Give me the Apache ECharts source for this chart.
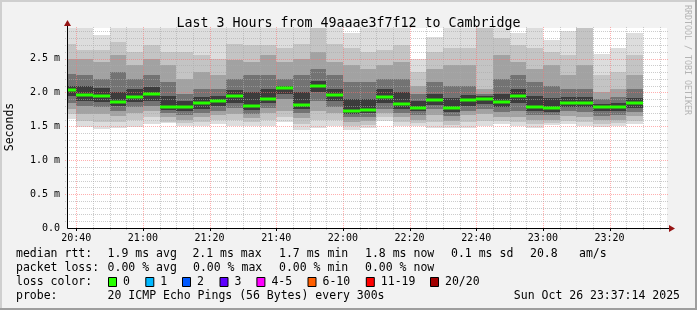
<!DOCTYPE html>
<html><head><meta charset="utf-8">
<script src="https://cdn.jsdelivr.net/npm/echarts@6/dist/echarts.min.js"></script>
<style>html,body{margin:0;padding:0;background:#f2f2f2}#c{width:697px;height:310px}</style>
</head><body><div id="c"></div>
<script>
// ---------------- data ----------------
const titleText = 'Last 3 Hours from 49aaae3f7f12 to Cambridge';
const xStart = '20:37:14', xEnd = '23:37:14';
const yMax = 2.95;                       // ms
const yTickValues = [0, 0.5, 1.0, 1.5, 2.0, 2.5];
const xTickLabels = ['20:40','21:00','21:20','21:40','22:00','22:20','22:40','23:00','23:20'];
const binEnds = ['20:40','20:45','20:50','20:55','21:00','21:05','21:10','21:15','21:20','21:25','21:30','21:35',
  '21:40','21:45','21:50','21:55','22:00','22:05','22:10','22:15','22:20','22:25','22:30','22:35',
  '22:40','22:45','22:50','22:55','23:00','23:05','23:10','23:15','23:20','23:25','23:30'];
const median = [2.04,1.96,1.95,1.86,1.93,1.97,1.79,1.78,1.84,1.88,1.94,1.80,1.91,2.06,1.81,2.09,1.96,1.725,
  1.74,1.93,1.83,1.77,1.89,1.77,1.89,1.90,1.86,1.94,1.78,1.77,1.845,1.85,1.78,1.78,1.84];
// smoke band edges (outermost = 1 ... innermost = 5)
const smokeHi1 = [2.95,2.95,2.85,2.95,2.95,2.95,2.95,2.95,2.95,2.95,2.95,2.95,2.95,2.95,2.95,2.95,2.95,2.87,
  2.95,2.95,2.95,2.50,2.82,2.95,2.95,2.95,2.95,2.87,2.95,2.78,2.90,2.95,2.57,2.66,2.88];
const smokeHi2 = [2.71,2.62,2.62,2.75,2.60,2.70,2.60,2.60,2.55,2.50,2.72,2.70,2.70,2.65,2.72,2.95,2.72,2.65,
  2.60,2.62,2.70,2.30,2.60,2.65,2.65,2.95,2.80,2.70,2.65,2.60,2.55,2.95,2.25,2.30,2.55];
const smokeHi3 = [2.49,2.49,2.45,2.55,2.40,2.50,2.40,2.20,2.30,2.25,2.48,2.45,2.55,2.45,2.50,2.60,2.45,2.40,
  2.35,2.40,2.45,2.10,2.35,2.40,2.40,2.05,2.55,2.45,2.35,2.40,2.25,2.40,2.00,2.05,2.25];
const smokeHi4 = [2.27,2.25,2.20,2.30,2.20,2.25,2.15,1.98,2.05,2.05,2.20,2.25,2.25,2.20,2.25,2.35,2.25,2.15,
  2.15,2.20,2.20,1.98,2.15,2.10,2.10,1.98,2.20,2.25,2.15,2.10,2.05,2.05,1.90,1.93,2.05];
const smokeHi5 = [2.10,2.10,2.06,2.00,2.05,2.08,1.95,1.88,1.93,1.95,2.03,2.00,2.05,2.10,2.00,2.17,2.05,1.90,
  1.90,2.05,2.00,1.88,1.98,1.92,1.96,1.95,1.98,2.05,1.95,1.92,1.93,1.93,1.83,1.85,1.92];
const smokeLo5 = [1.95,1.88,1.86,1.80,1.86,1.88,1.74,1.72,1.76,1.80,1.85,1.74,1.84,1.98,1.75,2.00,1.88,1.68,
  1.69,1.84,1.76,1.72,1.82,1.71,1.80,1.83,1.79,1.84,1.72,1.71,1.78,1.78,1.72,1.72,1.77];
const smokeLo4 = [1.85,1.80,1.78,1.73,1.78,1.80,1.69,1.66,1.70,1.73,1.77,1.68,1.77,1.90,1.69,1.88,1.79,1.63,
  1.64,1.76,1.70,1.66,1.75,1.65,1.73,1.76,1.71,1.72,1.66,1.66,1.72,1.71,1.65,1.66,1.71];
const smokeLo3 = [1.75,1.68,1.68,1.65,1.70,1.72,1.63,1.60,1.64,1.66,1.68,1.62,1.69,1.72,1.62,1.72,1.70,1.57,
  1.58,1.69,1.63,1.60,1.66,1.58,1.66,1.68,1.64,1.64,1.60,1.60,1.65,1.64,1.59,1.60,1.65];
const smokeLo2 = [1.68,1.58,1.57,1.56,1.60,1.64,1.57,1.55,1.57,1.60,1.59,1.56,1.60,1.63,1.54,1.60,1.60,1.50,
  1.52,1.63,1.56,1.55,1.57,1.52,1.56,1.58,1.58,1.57,1.54,1.55,1.58,1.57,1.54,1.55,1.58];
const smokeLo1 = [1.61,1.49,1.46,1.47,1.49,1.54,1.55,1.50,1.50,1.53,1.50,1.50,1.50,1.56,1.45,1.48,1.50,1.44,
  1.48,1.58,1.50,1.50,1.48,1.47,1.48,1.51,1.53,1.51,1.48,1.52,1.53,1.50,1.49,1.51,1.53];
const legendRtt = [['median rtt:',16],['1.9 ms avg',107.6],['2.1 ms max',192.4],['1.7 ms min',279],['1.8 ms now',365],['0.1 ms sd',451],['20.8',530],['am/s',579]];
const legendLoss = [['packet loss:',16],['0.00 % avg',107.6],['0.00 % max',193],['0.00 % min',279],['0.00 % now',365]];
const lossLabels = ['0','1','2','3','4-5','6-10','11-19','20/20'];
const lossColors = ['#26ff00','#00b8ff','#0059ff','#5e00ff','#ff00ff','#ff5e00','#ff0000','#a10000'];
const lossBoxX = [108,145.3,182,219.5,256.4,307.5,365.8,430];
const probeText = '20 ICMP Echo Pings (56 Bytes) every 300s';
const dateText = 'Sun Oct 26 23:37:14 2025';

// ---------------- derived ----------------
const MONO = '"DejaVu Sans Mono", monospace';
const toMin = s => { const p = s.split(':').map(Number); return p[0]*60 + p[1] + (p[2]||0)/60; };
const xMin = toMin(xStart), xMax = toMin(xEnd);
const binEndMin = binEnds.map(toMin);
const binStartMin = binEndMin.map(e => Math.max(e - 5, xMin));
const his = [smokeHi1, smokeHi2, smokeHi3, smokeHi4, smokeHi5];
const los = [smokeLo1, smokeLo2, smokeLo3, smokeLo4, smokeLo5];
const smokeColors = ['#dddddd','#c4c4c4','#a2a2a2','#737373','#3c3c3c'];
const lossColorMedian = lossColors[0];

const vGrid = [];
for (let t = Math.ceil(xMin/5)*5; t <= xMax; t += 5) vGrid.push([t, 0, (t % 20 === 0) ? 1 : 0]);
const hGrid = [];
for (let k = 1; k * 0.1 < yMax; k++) hGrid.push([xMin, +(k*0.1).toFixed(1), (k % 5 === 0) ? 1 : 0]);

const chart = echarts.init(document.getElementById('c'), null, {renderer: 'canvas'});

function smokeItem(params, api) {
  const i = params.dataIndex;
  const children = [];
  for (let k = 0; k < 5; k++) {
    const hi = Math.min(his[k][i], yMax), lo = los[k][i];
    const a = api.coord([binStartMin[i], hi]), b = api.coord([binEndMin[i], lo]);
    const X = Math.round(a[0]), Y = Math.round(a[1]);
    children.push({type: 'rect', shape: {x: X, y: Y, width: Math.round(b[0]) - X, height: Math.round(b[1]) - Y},
      style: {fill: smokeColors[k]}});
  }
  return {type: 'group', children};
}
function medianItem(params, api) {
  const i = params.dataIndex;
  const a = api.coord([binStartMin[i], median[i]]), b = api.coord([binEndMin[i], median[i]]);
  const X = Math.round(a[0]);
  return {type: 'rect', shape: {x: X, y: Math.round(a[1]) - 1.5, width: Math.round(b[0]) - X, height: 3},
    style: {fill: lossColorMedian}};
}
function vGridItem(params, api) {
  const t = api.value(0), major = api.value(2);
  const a = api.coord([t, 0]), b = api.coord([t, yMax]);
  const X = Math.round(a[0]) + 0.5;
  return {type: 'line', shape: {x1: X, y1: Math.round(a[1]) + 2, x2: X, y2: Math.round(b[1]) - 2},
    style: {stroke: major ? 'rgba(255,110,110,0.55)' : 'rgba(170,170,170,0.6)', lineWidth: 1, lineDash: [1, 1]}};
}
function hGridItem(params, api) {
  const v = api.value(1), major = api.value(2);
  const a = api.coord([xMin, v]), b = api.coord([xMax, v]);
  const Y = Math.round(a[1]) + 0.5;
  return {type: 'line', shape: {x1: Math.round(a[0]) - 2, y1: Y, x2: Math.round(b[0]) + 2, y2: Y},
    style: {stroke: major ? 'rgba(255,110,110,0.55)' : 'rgba(170,170,170,0.6)', lineWidth: 1, lineDash: [1, 1]}};
}
function xLabelItem(params, api) {
  const t = api.value(0);
  const a = api.coord([t, 0]);
  const label = xTickLabels[params.dataIndex];
  return {type: 'group', children: [
    {type: 'line', shape: {x1: Math.round(a[0]) + 0.5, y1: Math.round(a[1]), x2: Math.round(a[0]) + 0.5, y2: Math.round(a[1]) + 3},
      style: {stroke: '#000', lineWidth: 1}},
    {type: 'text', style: {text: label, x: a[0], y: a[1] + 10, align: 'center', verticalAlign: 'middle',
      textAlign: 'center', textVerticalAlign: 'middle', font: '10px ' + MONO, fill: '#000'}}
  ]};
}
function axesItem(params, api) {
  const o = api.coord([xMin, 0]), e = api.coord([xMax, 0]), t = api.coord([xMin, yMax]);
  const ox = Math.round(o[0]) + 0.5, oy = Math.round(o[1]) + 0.5;
  const ex = Math.round(e[0]) + 2, ty = Math.round(t[1]) - 2;
  return {type: 'group', children: [
    {type: 'line', shape: {x1: ox, y1: oy, x2: ex, y2: oy}, style: {stroke: '#000', lineWidth: 1}},
    {type: 'line', shape: {x1: ox, y1: oy, x2: ox, y2: ty}, style: {stroke: '#000', lineWidth: 1}},
    {type: 'polygon', shape: {points: [[ex, oy - 3.5], [ex + 6, oy], [ex, oy + 3.5]]}, style: {fill: '#961414'}},
    {type: 'polygon', shape: {points: [[ox - 3.5, ty], [ox, ty - 6], [ox + 3.5, ty]]}, style: {fill: '#961414'}}
  ]};
}

const textEls = [];
const addText = (text, x, y, opts) => textEls.push(Object.assign({type: 'text', x: x, y: y,
  style: Object.assign({text: text, x: 0, y: 0, font: '11.5px ' + MONO, fill: '#000',
    verticalAlign: 'middle', textVerticalAlign: 'middle'}, opts || {})}));
legendRtt.forEach(([s, x]) => addText(s, x, 254));
legendLoss.forEach(([s, x]) => addText(s, x, 268));
addText('loss color:', 16, 282);
lossLabels.forEach((s, i) => {
  textEls.push({type: 'rect', shape: {x: lossBoxX[i] + 0.5, y: 277.5, width: 8, height: 9},
    style: {fill: lossColors[i], stroke: '#000', lineWidth: 1}});
  addText(s, lossBoxX[i] + 15, 282);
});
addText('probe:', 16, 296);
addText(probeText, 107.6, 296);
addText(dateText, 680, 296, {align: 'right', textAlign: 'right'});
textEls.push({type: 'text', x: 10, y: 127, rotation: Math.PI / 2,
  style: {text: 'Seconds', x: 0, y: 0, font: '11.5px ' + MONO, fill: '#000', align: 'center', verticalAlign: 'middle',
    textAlign: 'center', textVerticalAlign: 'middle'}});
textEls.push({type: 'text', x: 687, y: 60, rotation: -Math.PI / 2,
  style: {text: 'RRDTOOL / TOBI OETIKER', x: 0, y: 0, font: '8.3px ' + MONO, fill: '#b4b4b4', align: 'center',
    verticalAlign: 'middle', textAlign: 'center', textVerticalAlign: 'middle'}});
// frame
textEls.push({type: 'rect', shape: {x: 0, y: 0, width: 697, height: 2}, style: {fill: '#cfcfcf'}, z: -1});
textEls.push({type: 'rect', shape: {x: 0, y: 0, width: 2, height: 310}, style: {fill: '#cfcfcf'}, z: -1});
textEls.push({type: 'rect', shape: {x: 0, y: 308, width: 697, height: 2}, style: {fill: '#9e9e9e'}, z: -1});
textEls.push({type: 'rect', shape: {x: 695, y: 0, width: 2, height: 310}, style: {fill: '#9e9e9e'}, z: -1});

const binData = binEndMin.map((e, i) => [binStartMin[i], median[i]]);

chart.setOption({
  animation: false,
  backgroundColor: '#f2f2f2',
  title: {text: titleText, left: 'center', top: 11,
    textStyle: {fontFamily: MONO, fontSize: 13.3, fontWeight: 'normal', color: '#000', lineHeight: 16}},
  grid: {left: 67, right: 30, top: 28, bottom: 82, show: true, backgroundColor: '#ffffff', borderWidth: 0},
  xAxis: {type: 'value', min: xMin, max: xMax, show: true,
    axisLine: {show: false}, axisTick: {show: false}, axisLabel: {show: false}, splitLine: {show: false}},
  yAxis: {type: 'value', min: 0, max: yMax, interval: 0.5,
    axisLine: {show: false}, axisTick: {show: false}, splitLine: {show: false},
    axisLabel: {margin: 7, fontFamily: MONO, fontSize: 10, color: '#000',
      formatter: v => {
        const hit = yTickValues.find(t => Math.abs(t - v) < 1e-6);
        if (hit === undefined) return '';
        return hit === 0 ? '0.0' : hit.toFixed(1) + ' m';
      }}},
  graphic: {elements: textEls},
  series: [
    {type: 'custom', name: 'smoke', renderItem: smokeItem, data: binData, encode: {x: 0, y: 1}, z: 1, silent: true},
    {type: 'custom', name: 'vgrid', renderItem: vGridItem, data: vGrid, encode: {x: 0, y: 1}, z: 2, silent: true},
    {type: 'custom', name: 'hgrid', renderItem: hGridItem, data: hGrid, encode: {x: 0, y: 1}, z: 2, silent: true},
    {type: 'custom', name: 'median', renderItem: medianItem, data: binData, encode: {x: 0, y: 1}, z: 3, silent: true},
    {type: 'custom', name: 'axes', renderItem: axesItem, data: [[xMin, 0]], encode: {x: 0, y: 1}, z: 4, silent: true},
    {type: 'custom', name: 'xlabels', renderItem: xLabelItem, data: xTickLabels.map(s => [toMin(s), 0]),
      encode: {x: 0, y: 1}, z: 4, silent: true}
  ]
});
</script></body></html>
